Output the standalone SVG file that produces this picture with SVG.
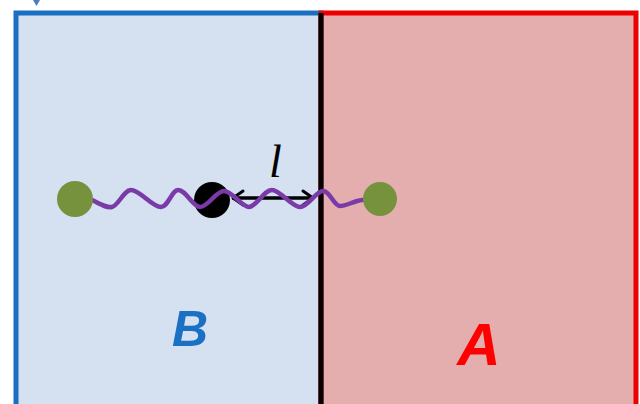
<svg xmlns="http://www.w3.org/2000/svg" width="640" height="404" viewBox="0 0 640 404">
<defs>
<style>
.lbl{font-family:"Liberation Sans",Arial,sans-serif;font-weight:bold;font-style:italic;}
</style>
<marker id="chev" viewBox="0 0 14 18" refX="13" refY="9" markerWidth="14" markerHeight="18" markerUnits="userSpaceOnUse" orient="auto-start-reverse">
<path d="M2,2 L12,9 L2,16" fill="none" stroke="#000" stroke-width="3" stroke-linecap="round" stroke-linejoin="round"/>
</marker>
</defs>
<rect width="640" height="404" fill="#fff"/>
<g id="regionB">
<rect x="16" y="13" width="305" height="400" fill="#d5e0f1" stroke="#1a6fc0" stroke-width="5"/>
<text class="lbl" x="190" y="346" font-size="50" fill="#1a70c2" text-anchor="middle">B</text>
</g>
<g id="regionA">
<rect x="321" y="13" width="315" height="400" fill="#e4aeae" stroke="#ee0000" stroke-width="5"/>
<text class="lbl" x="479" y="365" font-size="60" fill="#ff0000" text-anchor="middle">A</text>
</g>
<path d="M33,0 L40,0 L36.5,6 Z" fill="#4a7cc0"/>
<g id="connectors">
<line x1="321" y1="13" x2="321" y2="404" stroke="#000" stroke-width="5"/>
<line x1="232" y1="198" x2="314" y2="198" stroke="#000" stroke-width="3.5" marker-start="url(#chev)" marker-end="url(#chev)"/>
</g>
<g id="centerDot"><circle cx="212" cy="200" r="18" fill="#000"/></g>
<g id="spring">
<path d="M92,200 C100,204 106,208 112,207 C118,206 124,190 131,190 C140,190 152,207 161,207 C168,207 172,190 178,190 C186,190 193,207 200,207 C208,207 216,191 224,191 C232,191 242,207 249,207 C256,207 264,190 272,190 C280,190 292,207 300,207 C308,207 316,191 323,191 C330,191 334,206 340,206 C346,206 354,201 362,200" fill="none" stroke="#7a3aa8" stroke-width="4.5" stroke-linecap="round"/>
</g>
<g id="leftParticle"><circle cx="75" cy="199" r="18" fill="#76923c"/></g>
<g id="rightParticle"><circle cx="380" cy="199" r="17" fill="#76923c"/></g>
<text x="269" y="177" font-family="Liberation Serif,'Times New Roman',serif" font-style="italic" font-size="46" fill="#000">l</text>
</svg>
